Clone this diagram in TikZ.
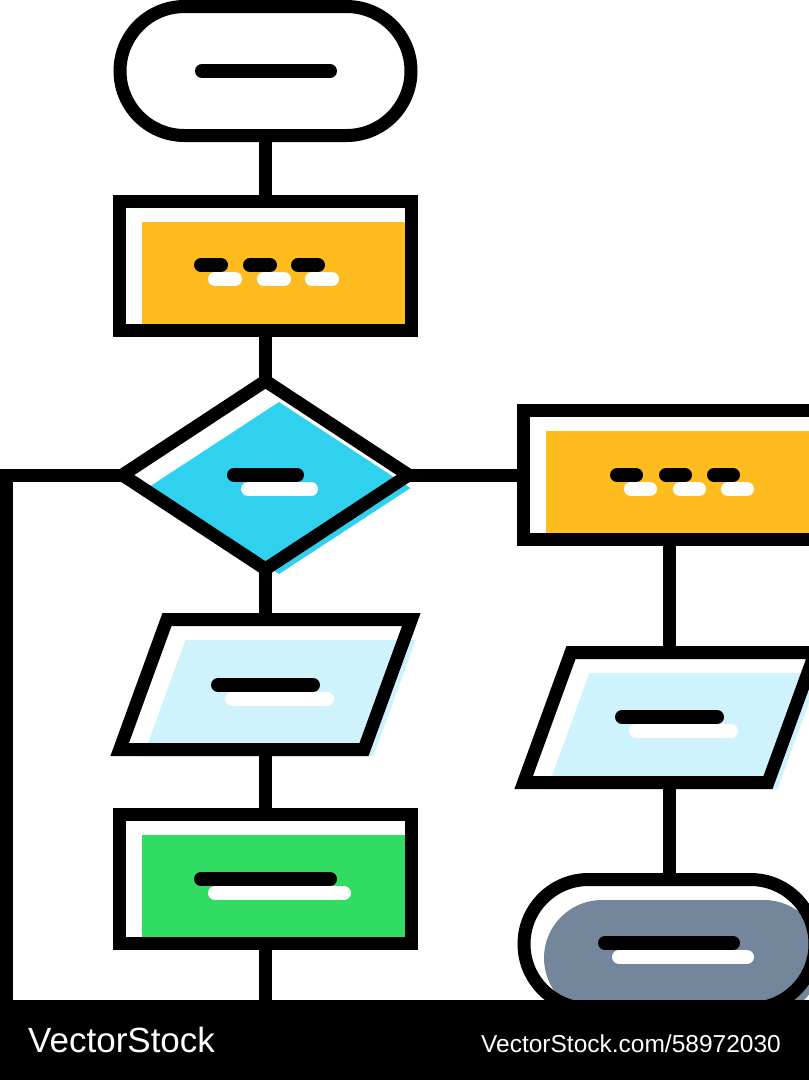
\documentclass[tikz,border=0pt]{standalone}
\usepackage{fontspec}
\setmainfont{Liberation Sans}
\usetikzlibrary{shapes.geometric}
\definecolor{boxyellow}{RGB}{254,188,30}
\definecolor{boxblue}{RGB}{47,209,239}
\definecolor{boxpale}{RGB}{207,243,253}
\definecolor{boxgreen}{RGB}{49,220,98}
\definecolor{boxgrey}{RGB}{115,134,156}
\tikzset{
  rim/.style={draw=black, line width=13pt, inner sep=0pt},
  linkline/.style={draw=black, line width=13pt},
  tint/.style={draw=none, inner sep=0pt, fill=#1},
  termbox/.style={rectangle, minimum width=291pt, minimum height=129pt, rounded corners=64.5pt},
  procbox/.style={rectangle, minimum width=292pt, minimum height=129pt},
  decbox/.style={diamond, minimum width=286pt, minimum height=188pt, outer sep=0pt},
  iobox/.style={trapezium, trapezium left angle=70, trapezium right angle=110,
    text width=197pt, text height=130pt, text depth=0pt},
  inkbar/.style={line width=14pt, line cap=round, black},
  gapbar/.style={line width=14pt, line cap=round, white}
}
\begin{document}
\begin{tikzpicture}[x=1pt,y=-1pt]
        \useasboundingbox (0,0) rectangle (809,1080);
        \fill [white] (0,0) rectangle (809,1080);
        \clip (0,0) rectangle (809,1080);

        \node [procbox, tint=boxyellow, minimum width=276pt, minimum height=114pt] (p1fill) at (279.5,279) {};
        \node [procbox, tint=boxyellow, minimum width=276pt, minimum height=114pt] (p2fill) at (683.5,488) {};
        \node [procbox, tint=boxgreen, minimum width=276pt, minimum height=114pt] (p3fill) at (279.5,892) {};
        \node [decbox, tint=boxblue, minimum width=263pt, minimum height=172pt] (decfill) at (279,488) {};
        \node [iobox, tint=boxpale, text width=188pt, text height=116pt] (io1fill) at (279.5,698) {};
        \node [iobox, tint=boxpale, text width=188pt, text height=116pt] (io2fill) at (683.5,731) {};
        \node [termbox, tint=boxgrey, minimum width=278pt, minimum height=116pt, rounded corners=58pt] (stopfill) at (683,958) {};

        \node [termbox, rim] (start) at (265.5,71) {};
        \node [procbox, rim] (p1) at (265.5,265.5) {};
        \node [decbox, rim] (dec) at (265.5,475) {};
        \node [procbox, rim] (p2) at (669.5,474.5) {};
        \node [iobox, rim] (io1) at (265.5,684.5) {};
        \node [iobox, rim] (io2) at (669.5,717.5) {};
        \node [procbox, rim] (p3) at (265.5,878.5) {};
        \node [termbox, rim] (stop) at (669.5,944) {};

        \node [fill=black, minimum width=809pt, minimum height=80pt, inner sep=0pt, anchor=north west] (band) at (0,1000) {};
        \node [anchor=base west, text=white, inner sep=0pt, font=\fontsize{35}{40}\selectfont] (logo) at (28,1052) {VectorStock};
        \node [anchor=base east, text=white, inner sep=0pt, font=\fontsize{24.5}{28}\selectfont] (url) at (781,1052) {VectorStock.com/58972030};

        \coordinate (lcorner) at (6.5,475);

        \draw [linkline] (start.south) -- (p1.north);
        \draw [linkline] (p1.south) -- (dec.north);
        \draw [linkline] (dec.south) -- (io1.north);
        \draw [linkline] (io1.south) -- (p3.north);
        \draw [linkline] (p3.south) -- (p3.south |- band.north);
        \draw [linkline] (dec.west) -- (lcorner) -- (lcorner |- band.north);
        \draw [linkline] (dec.east) -- (dec.east -| p2.west);
        \draw [linkline] (p2.south) -- (io2.north);
        \draw [linkline] (io2.south) -- (stop.north);

        \draw [inkbar] (202,71) -- (330,71);
        \foreach \dx in {0,49,97} {
            \draw [inkbar] (201+\dx,265) -- ++(20,0);
            \draw [gapbar] (215+\dx,279) -- ++(20,0);
            \draw [inkbar] (617+\dx,475) -- ++(19,0);
            \draw [gapbar] (631+\dx,489) -- ++(19,0);
        }
        \draw [inkbar] (234,475) -- (297,475);
        \draw [gapbar] (248,489) -- (311,489);
        \draw [inkbar] (218,685) -- (313,685);
        \draw [gapbar] (232,699) -- (327,699);
        \draw [inkbar] (622,717) -- (717,717);
        \draw [gapbar] (636,731) -- (731,731);
        \draw [inkbar] (201,879) -- (330,879);
        \draw [gapbar] (215,893) -- (344,893);
        \draw [inkbar] (605,943) -- (733,943);
        \draw [gapbar] (619,957) -- (747,957);
    \end{tikzpicture}
\end{document}
